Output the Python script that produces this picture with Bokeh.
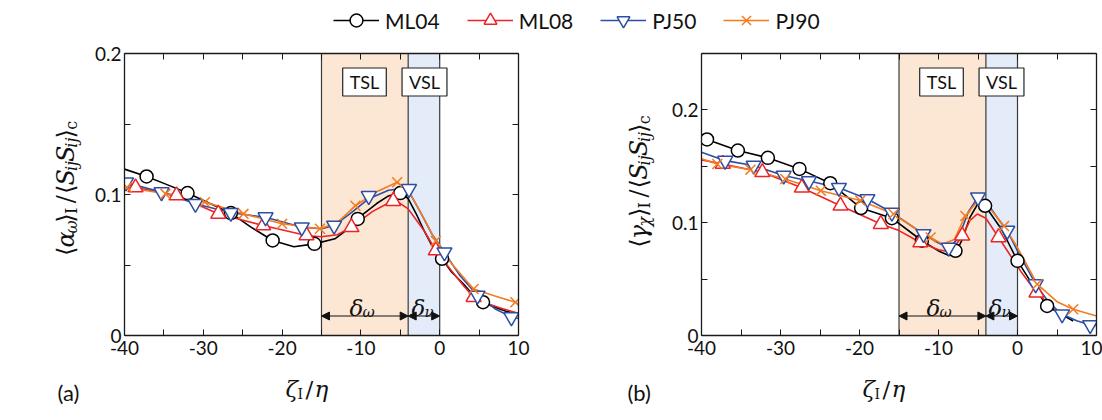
from math import pi
from bokeh.plotting import figure
from bokeh.models import (Range1d, LinearAxis, FixedTicker, BoxAnnotation, Span, Label,
                          Arrow, NormalHead, Legend, LegendItem)
from bokeh.layouts import column, row
from bokeh.embed import file_html
from bokeh.resources import INLINE

# ---------------- data ----------------
series_names = ["ML04", "ML08", "PJ50", "PJ90"]

x_major = [-40, -30, -20, -10, 0, 10]
x_minor = [-35, -25, -15, -5, 5]
x_tick_labels = ["-40", "-30", "-20", "-10", "0", "10"]
y_major = [0, 0.1, 0.2]
y_minor_a = [0.05, 0.15]
y_minor_b = [0.05, 0.15]
y_tick_labels = ["0", "0.1", "0.2"]

tsl_range = [-15, -4]
vsl_range = [-4, 0]

# panel (a): <alpha_omega>_I / <S_ij S_ij>_c
a_ml04_line_x = [-40, -37.2, -34.6, -32, -29.3, -26.5, -24, -21.2, -18.5, -15.9, -13.3, -12, -10.4, -8, -6.5, -5.0, -4.0, -3.0, -2.0, -1.0, 0.3, 1.5, 3.0, 4.3, 5.5, 7.0, 8.5, 10]
a_ml04_line_y = [0.118, 0.1128, 0.107, 0.101, 0.094, 0.0868, 0.077, 0.0674, 0.063, 0.065, 0.0686, 0.074, 0.083, 0.0936, 0.099, 0.1015, 0.097, 0.0865, 0.0745, 0.064, 0.0544, 0.045, 0.0367, 0.0284, 0.0236, 0.020, 0.017, 0.0154]
a_ml04_mark_x = [-37.2, -32, -26.5, -21.2, -15.9, -10.4, -5.0, 0.3, 5.5]
a_ml04_mark_y = [0.1128, 0.101, 0.0868, 0.0674, 0.065, 0.0827, 0.101, 0.0544, 0.0236]

a_ml08_line_x = [-40, -38.6, -33.4, -28.1, -22.4, -16.9, -15, -13, -11.2, -8.5, -6.5, -5.5, -4.0, -2.0, -0.5, 1.5, 3.0, 4.3, 6.0, 8.0, 10]
a_ml08_line_y = [0.108, 0.105, 0.0993, 0.0863, 0.078, 0.0709, 0.070, 0.0715, 0.0768, 0.088, 0.094, 0.0955, 0.0898, 0.0745, 0.0603, 0.046, 0.0355, 0.0272, 0.0227, 0.019, 0.0158]
a_ml08_mark_x = [-38.6, -33.4, -28.1, -22.4, -16.9, -11.2, -5.9, -0.5, 4.3]
a_ml08_mark_y = [0.105, 0.0993, 0.0863, 0.078, 0.0709, 0.0768, 0.0953, 0.0603, 0.0272]

a_pj50_line_x = [-40, -35.3, -31, -26.5, -22.1, -17.5, -15, -13.4, -11, -9, -6.5, -5, -3.9, -2.5, -1, 0.6, 2.5, 4.8, 7, 9.1, 10]
a_pj50_line_y = [0.1087, 0.1017, 0.0934, 0.087, 0.0839, 0.0768, 0.0757, 0.078, 0.088, 0.097, 0.103, 0.104, 0.102, 0.088, 0.072, 0.059, 0.043, 0.0284, 0.019, 0.013, 0.012]
a_pj50_mark_x = [-39.8, -35.3, -31, -26.5, -22.1, -17.5, -13.4, -9, -3.9, 0.6, 4.8, 9.1]
a_pj50_mark_y = [0.1087, 0.1017, 0.0934, 0.087, 0.0839, 0.0768, 0.078, 0.099, 0.104, 0.059, 0.0284, 0.013]

a_pj90_line_x = [-40, -39.7, -34.8, -29.8, -24.9, -20, -15.2, -13, -10.7, -8, -5.4, -4, -2, -0.5, 1.5, 4.3, 7, 9.6, 10]
a_pj90_line_y = [0.107, 0.105, 0.1005, 0.0946, 0.0863, 0.0792, 0.0757, 0.080, 0.092, 0.102, 0.1087, 0.103, 0.083, 0.067, 0.051, 0.033, 0.028, 0.0236, 0.022]
a_pj90_mark_x = [-39.7, -34.8, -29.8, -24.9, -20, -15.2, -10.7, -5.4, -0.5, 4.3, 9.6]
a_pj90_mark_y = [0.105, 0.1005, 0.0946, 0.0863, 0.0792, 0.0757, 0.092, 0.1087, 0.067, 0.033, 0.0236]

# panel (b): <gamma_chi>_I / <S_ij S_ij>_c
b_ml04_line_x = [-40, -39.3, -35.4, -31.6, -27.6, -23.7, -19.8, -15.9, -12.1, -10, -8.7, -7.85, -7, -6, -5, -4.1, -3, -2, -1, 0, 2, 3.75, 5.5, 7.05]
b_ml04_line_y = [0.175, 0.1738, 0.164, 0.1575, 0.1477, 0.135, 0.113, 0.104, 0.084, 0.075, 0.071, 0.073, 0.085, 0.105, 0.117, 0.115, 0.104, 0.094, 0.080, 0.0662, 0.044, 0.0262, 0.019, 0.0129]
b_ml04_mark_x = [-39.3, -35.4, -31.6, -27.6, -23.7, -19.8, -15.9, -12.1, -7.85, -4.1, 0, 3.75]
b_ml04_mark_y = [0.1738, 0.164, 0.1575, 0.1477, 0.135, 0.113, 0.104, 0.084, 0.0751, 0.115, 0.0662, 0.0262]

b_ml08_line_x = [-40, -37.3, -32.3, -27.3, -22.4, -17.3, -15, -12.3, -10, -8.5, -7, -6, -5.1, -4, -2.4, -1, 0.5, 2.4, 3.5]
b_ml08_line_y = [0.1557, 0.152, 0.1447, 0.131, 0.115, 0.0988, 0.093, 0.0825, 0.076, 0.074, 0.088, 0.102, 0.1077, 0.104, 0.087, 0.072, 0.056, 0.038, 0.031]
b_ml08_mark_x = [-37.3, -32.3, -27.3, -22.4, -17.3, -12.3, -7.0, -2.4, 2.4]
b_ml08_mark_y = [0.152, 0.1447, 0.131, 0.115, 0.0988, 0.0825, 0.0884, 0.087, 0.038]

b_pj50_line_x = [-40, -37, -33.4, -29.6, -26.4, -22.6, -19, -15.9, -11.9, -10, -8.7, -7.5, -6.2, -5, -4, -2.5, -1.3, 0, 2.3, 4, 5.65, 7.5, 9.2, 10]
b_pj50_line_y = [0.1625, 0.155, 0.1507, 0.1418, 0.137, 0.131, 0.121, 0.109, 0.090, 0.082, 0.078, 0.086, 0.110, 0.1225, 0.119, 0.104, 0.093, 0.075, 0.0455, 0.029, 0.0188, 0.013, 0.0093, 0.009]
b_pj50_mark_x = [-37, -33.4, -29.6, -26.4, -22.6, -19, -15.9, -11.9, -8.7, -5, -1.3, 2.3, 5.65, 9.2]
b_pj50_mark_y = [0.155, 0.1507, 0.1418, 0.137, 0.131, 0.121, 0.109, 0.09, 0.078, 0.1225, 0.093, 0.0455, 0.0188, 0.0093]

b_pj90_line_x = [-40, -38, -33.8, -29.4, -24.9, -19.9, -15.7, -13, -11, -9.5, -8, -6.6, -5, -4, -1.7, 0, 2.5, 5, 7.05, 10]
b_pj90_line_y = [0.1566, 0.152, 0.147, 0.1388, 0.1284, 0.1196, 0.1077, 0.095, 0.087, 0.081, 0.085, 0.106, 0.1196, 0.117, 0.097, 0.078, 0.0455, 0.030, 0.0233, 0.0173]
b_pj90_mark_x = [-38, -33.8, -29.4, -24.9, -19.9, -15.7, -11, -6.6, -1.7, 2.5, 7.05]
b_pj90_mark_y = [0.152, 0.147, 0.1388, 0.1284, 0.1196, 0.1077, 0.087, 0.106, 0.097, 0.0455, 0.0233]

# ---------------- styles ----------------
COLORS = {"ML04": "#000000", "ML08": "#ee2326", "PJ50": "#2d4ea3", "PJ90": "#f47b20"}
MARKERS = {"ML04": "circle", "ML08": "triangle", "PJ50": "inverted_triangle", "PJ90": "x"}
MSIZE = {"ML04": 13, "ML08": 15, "PJ50": 15, "PJ90": 14}
SANS = "Lato"
SERIF = "DejaVu Serif"
TXT = "#111111"
TSL_FILL = "#fce6d4"
VSL_FILL = "#e3ecf8"
AX = "#1a1a1a"

LEG_H = 40          # legend strip height
MID_H = 325         # panel row height (page y 40..365)
BOT_H = 55          # bottom text strip (page y 365..420)
MID_TOP = LEG_H


def make_panel(left_px, right_px, frame_w, y_top, y_minor):
    p = figure(width=left_px + frame_w + right_px, height=MID_H,
               x_range=Range1d(-40, 10), y_range=Range1d(0, y_top),
               output_backend="svg", toolbar_location=None,
               min_border_left=left_px, min_border_right=right_px,
               min_border_top=13, min_border_bottom=MID_H - 13 - 282)
    p.grid.visible = False
    p.outline_line_color = None
    bottom = p.xaxis[0]
    left = p.yaxis[0]
    top = LinearAxis()
    right = LinearAxis()
    p.add_layout(top, "above")
    p.add_layout(right, "right")
    for ax in (bottom, top):
        ax.ticker = FixedTicker(ticks=x_major, minor_ticks=x_minor)
        ax.major_label_overrides = {t: s for t, s in zip(x_major, x_tick_labels)}
    for ax in (left, right):
        ax.ticker = FixedTicker(ticks=y_major, minor_ticks=y_minor)
        ax.major_label_overrides = {t: s for t, s in zip(y_major, y_tick_labels)}
    for ax in (bottom, top, left, right):
        ax.axis_line_color = AX
        ax.axis_line_width = 1.3
        ax.major_tick_line_color = AX
        ax.minor_tick_line_color = AX
        ax.major_tick_in = 6
        ax.major_tick_out = 0
        ax.minor_tick_in = 6
        ax.minor_tick_out = 0
        ax.major_label_text_font = SANS
        ax.major_label_text_font_size = "19px"
        ax.major_label_text_color = TXT
    bottom.major_label_standoff = 5
    left.major_label_standoff = 3
    for ax in (top, right):
        ax.major_label_text_font_size = "0px"
        ax.major_label_text_color = None
        ax.major_label_standoff = 0

    p.add_layout(BoxAnnotation(left=tsl_range[0], right=tsl_range[1], fill_color=TSL_FILL,
                               fill_alpha=1, line_color=None, level="underlay"))
    p.add_layout(BoxAnnotation(left=vsl_range[0], right=vsl_range[1], fill_color=VSL_FILL,
                               fill_alpha=1, line_color=None, level="underlay"))
    for loc in (tsl_range[0], tsl_range[1], vsl_range[1]):
        p.add_layout(Span(location=loc, dimension="height", line_color="#3a3a3a",
                          line_width=1.2, level="underlay"))
    return p


def draw_series(p, data):
    for name in series_names:
        lx, ly, _, _ = data[name]
        p.line(lx, ly, line_color=COLORS[name], line_width=1.6)
    for name in series_names:
        _, _, mx, my = data[name]
        p.scatter(mx, my, marker=MARKERS[name], size=MSIZE[name],
                  line_color=COLORS[name], fill_color="white", line_width=1.5)


def in_frame_annotations(p, frame_left, frame_w, y_top, gx0):
    def cx(gx):
        return -40 + (gx - frame_left) * 50.0 / frame_w

    def cy(gy):
        return (335 - gy) * y_top / 282.0

    for txt, gx in (("TSL", gx0 + 364), ("VSL", gx0 + 424)):
        p.add_layout(Label(x=cx(gx), y=cy(81.5), text=txt, text_align="center",
                           text_baseline="middle", text_font=SANS, text_font_size="18px",
                           text_color=TXT, background_fill_color="white",
                           border_line_color="#222222", border_line_width=1.2,
                           padding=(7, 3)))
    ya = cy(315.5)
    for a, b in ((tsl_range[0], tsl_range[1]), (vsl_range[0], vsl_range[1])):
        p.add_layout(Arrow(x_start=a, x_end=b, y_start=ya, y_end=ya, line_width=1.2,
                           line_color=TXT,
                           start=NormalHead(size=8, fill_color=TXT, line_color=TXT),
                           end=NormalHead(size=8, fill_color=TXT, line_color=TXT)))
    for base, sub, gx in (("δ", "ω", gx0 + 349), ("δ", "ν", gx0 + 411)):
        p.add_layout(Label(x=cx(gx), y=cy(307), text=base, text_font=SERIF,
                           text_font_style="italic", text_font_size="23px",
                           text_baseline="alphabetic", text_color=TXT))
        p.add_layout(Label(x=cx(gx + 13), y=cy(311), text=sub, text_font=SERIF,
                           text_font_style="italic", text_font_size="15px",
                           text_baseline="alphabetic", text_color=TXT))


def text_strip(width, height):
    f = figure(width=width, height=height, x_range=Range1d(0, width), y_range=Range1d(0, height),
               output_backend="svg", toolbar_location=None, min_border=0,
               x_axis_location=None, y_axis_location=None)
    f.grid.visible = False
    f.outline_line_color = None
    return f


def rotated_label(f, gx_base, gy_center, runs, x_off, y_bottom):
    # page coords -> strip data coords: x = gx - x_off, y = y_bottom - gy
    total = sum(r[5] + r[4] for r in runs)
    gy = gy_center + total / 2.0
    for txt, sz, st, is_sub, adv, pre in runs:
        gy -= pre
        gx = gx_base + (6 if is_sub else 0)
        f.add_layout(Label(x=gx - x_off, y=y_bottom - gy, text=txt, angle=pi / 2,
                           text_align="left", text_baseline="alphabetic", text_font=SERIF,
                           text_font_style=st, text_font_size=f"{sz}px", text_color=TXT))
        gy -= adv


MAIN = 24
SUB = 16
# (text, size, style, subscript?, advance px, gap before px)
common_tail = [("/", MAIN, "normal", False, 10.5, 4), ("⟨", MAIN, "normal", False, 10, 0),
               ("S", MAIN, "italic", False, 16.5, 0), ("ij", SUB, "italic", True, 10.5, 0),
               ("S", MAIN, "italic", False, 16.5, 0), ("ij", SUB, "italic", True, 10.5, 0),
               ("⟩", MAIN, "normal", False, 10, 0), ("c", SUB, "normal", True, 9.5, 0)]
ylab_a = [("⟨", MAIN, "normal", False, 10, 0), ("α", MAIN, "italic", False, 16, 0),
          ("ω", SUB, "italic", True, 12.5, 0), ("⟩", MAIN, "normal", False, 10, 0),
          ("I", SUB, "normal", True, 8.5, 0)] + common_tail
ylab_b = [("⟨", MAIN, "normal", False, 10, 0), ("γ", MAIN, "italic", False, 14.5, 0),
          ("χ", SUB, "italic", True, 11, 0), ("⟩", MAIN, "normal", False, 10, 0),
          ("I", SUB, "normal", True, 8.5, 0)] + common_tail

# ---------------- panels ----------------
# panel (a): page x 90..551, frame 124..518
pa = make_panel(34, 33, 394, 0.2, y_minor_a)
draw_series(pa, {
    "ML04": (a_ml04_line_x, a_ml04_line_y, a_ml04_mark_x, a_ml04_mark_y),
    "ML08": (a_ml08_line_x, a_ml08_line_y, a_ml08_mark_x, a_ml08_mark_y),
    "PJ50": (a_pj50_line_x, a_pj50_line_y, a_pj50_mark_x, a_pj50_mark_y),
    "PJ90": (a_pj90_line_x, a_pj90_line_y, a_pj90_mark_x, a_pj90_mark_y),
})
in_frame_annotations(pa, 124, 394, 0.2, 0)

# panel (b): page x 667..1102, frame 701..1096
pb = make_panel(34, 6, 395, 0.25, y_minor_b)
draw_series(pb, {
    "ML04": (b_ml04_line_x, b_ml04_line_y, b_ml04_mark_x, b_ml04_mark_y),
    "ML08": (b_ml08_line_x, b_ml08_line_y, b_ml08_mark_x, b_ml08_mark_y),
    "PJ50": (b_pj50_line_x, b_pj50_line_y, b_pj50_mark_x, b_pj50_mark_y),
    "PJ90": (b_pj90_line_x, b_pj90_line_y, b_pj90_mark_x, b_pj90_mark_y),
})
in_frame_annotations(pb, 701, 395, 0.25, 577)

# ---------------- y-label strips ----------------
ya_strip = text_strip(90, MID_H)
rotated_label(ya_strip, 65, 196, ylab_a, 0, MID_TOP + MID_H)
yb_strip = text_strip(116, MID_H)
rotated_label(yb_strip, 638, 188, ylab_b, 551, MID_TOP + MID_H)

# ---------------- bottom strip: x labels and panel tags ----------------
bot = text_strip(1102, BOT_H)
Y0 = 420
for gx0, tag in ((0, "(a)"), (570, "(b)")):
    bot.add_layout(Label(x=gx0 + 57, y=Y0 - 392, text=tag, text_font=SANS,
                         text_font_size="22px", text_baseline="alphabetic", text_color=TXT))
for gx0 in (0, 577):
    for txt, dx, gy, st, sz in (("ζ", 0, 388, "italic", 23), ("I", 12, 393, "normal", 14),
                                ("/", 20, 388, "normal", 23), ("η", 29, 388, "italic", 23)):
        bot.add_layout(Label(x=gx0 + 285 + dx, y=Y0 - gy, text=txt, text_font=SERIF,
                             text_font_style=st, text_font_size=f"{sz}px",
                             text_baseline="alphabetic", text_color=TXT))

# ---------------- legend strip ----------------
lf = text_strip(1102, LEG_H)
items = []
for name in series_names:
    r1 = lf.line([-10, -9], [-10, -10], line_color=COLORS[name], line_width=1.6)
    r2 = lf.scatter([-10], [-10], marker=MARKERS[name], size=MSIZE[name],
                    line_color=COLORS[name], fill_color="white", line_width=1.5)
    items.append(LegendItem(label=name, renderers=[r1, r2]))
leg = Legend(items=items, orientation="horizontal", location=(333, 4), glyph_width=46,
             glyph_height=32, label_standoff=6, spacing=27, padding=0, margin=0,
             border_line_color=None, background_fill_alpha=0,
             label_text_font=SANS, label_text_font_size="21px", label_text_color=TXT)
lf.add_layout(leg)

layout = column(lf, row(ya_strip, pa, yb_strip, pb), bot)
open("out.html", "w").write(file_html(layout, INLINE))
